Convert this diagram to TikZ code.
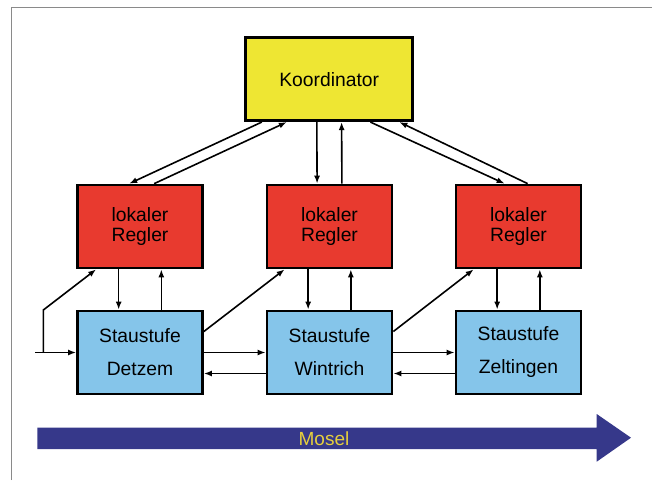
\documentclass[tikz,border=0pt]{standalone}
\usepackage{fontspec}
\setmainfont{Liberation Sans}
\usetikzlibrary{arrows.meta,calc}
\definecolor{koordyellow}{HTML}{EEE633}
\definecolor{reglerred}{HTML}{E83A2F}
\definecolor{stufeblue}{HTML}{85C5EA}
\definecolor{moselblue}{HTML}{36388A}
\definecolor{moseltext}{HTML}{E6CF3C}
\definecolor{framegray}{HTML}{8A8A8A}
\begin{document}
\begin{tikzpicture}[x=1pt,y=-1pt,
  box/.style={draw=black,line width=2.7pt,minimum width=125pt,minimum height=83pt,inner sep=0pt,align=center,font=\fontsize{19.3}{20}\selectfont},
  kbox/.style={box,fill=koordyellow,minimum width=167pt},
  rbox/.style={box,fill=reglerred},
  sbox/.style={box,fill=stufeblue,font=\fontsize{19.3}{33}\selectfont},
  arr/.style={line width=1.6pt,-{Latex[length=8pt,width=6pt]}}]
\useasboundingbox (0,0) rectangle (652,480);
\draw[framegray,line width=1.5pt] (11.6,480) -- (11.6,7.3) -- (652,7.3);

\node[kbox] (k) at (329.2,79.2) {Koordinator};
\node[rbox] (r1) at (140,226.5) {lokaler\\Regler};
\node[rbox] (r2) at (329.5,226.5) {lokaler\\Regler};
\node[rbox] (r3) at (518.5,226.5) {lokaler\\Regler};
\node[sbox] (b1) at (140,352.5) {Staustufe\\Detzem};
\node[sbox] (b2) at (329.5,352.5) {Staustufe\\Wintrich};
\node[sbox] (b3) at (518.5,352.5) {Staustufe\\Zeltingen};

% Koordinator <-> lokale Regler
\draw[arr] ($(k.south west)+(17.5,0)$) -- ($(r1.north west)+(53,0)$);
\draw[arr] ($(r1.north west)+(78,0)$) -- ($(k.south west)+(42.5,0)$);
\draw[arr] ($(k.south)+(-12.4,0)$) -- ($(r2.north)+(-12.4,0)$);
\draw[arr] ($(r2.north)+(12.4,0)$) -- ($(k.south)+(12.4,0)$);
\draw[arr] ($(k.south east)+(-43.7,0)$) -- ($(r3.north west)+(50,0)$);
\draw[arr] ($(r3.north west)+(73,0)$) -- ($(k.south east)+(-14.7,0)$);

% lokale Regler <-> Staustufen
\foreach \i in {1,2,3}{
  \draw[arr] ($(r\i.south west)!0.333!(r\i.south east)$) -- ($(b\i.north west)!0.333!(b\i.north east)$);
  \draw[arr] ($(b\i.north west)!0.667!(b\i.north east)$) -- ($(r\i.south west)!0.667!(r\i.south east)$);
}

% Staustufe -> naechster Regler
\draw[arr] ($(b1.east)+(0,-21)$) -- ($(r2.south west)+(19,0)$);
\draw[arr] ($(b2.east)+(0,-21)$) -- ($(r3.south west)+(19,0)$);

% Staustufen untereinander
\draw[arr] (b1.east) -- (b2.west);
\draw[arr] ($(b2.west)+(0,21)$) -- ($(b1.east)+(0,21)$);
\draw[arr] (b2.east) -- (b3.west);
\draw[arr] ($(b3.west)+(0,21)$) -- ($(b2.east)+(0,21)$);

% Zufluss
\coordinate (in) at (35,352.5);
\coordinate (jn) at (43.3,352.5);
\coordinate (up) at (43.3,310);
\draw[arr] (in) -- (b1.west);
\draw[arr] (jn) -- (up) -- ($(r1.south west)+(20,0)$);

% Mosel
\fill[moselblue] (37.4,427.7) -- (596.7,427.7) -- (596.7,414) -- (631,437.7) -- (596.7,461.7) -- (596.7,449) -- (37.4,449) -- cycle;
\node[text=moseltext,font=\fontsize{19}{20}\selectfont,inner sep=0pt] (mosel) at (324,438.5) {Mosel};
\end{tikzpicture}
\end{document}
